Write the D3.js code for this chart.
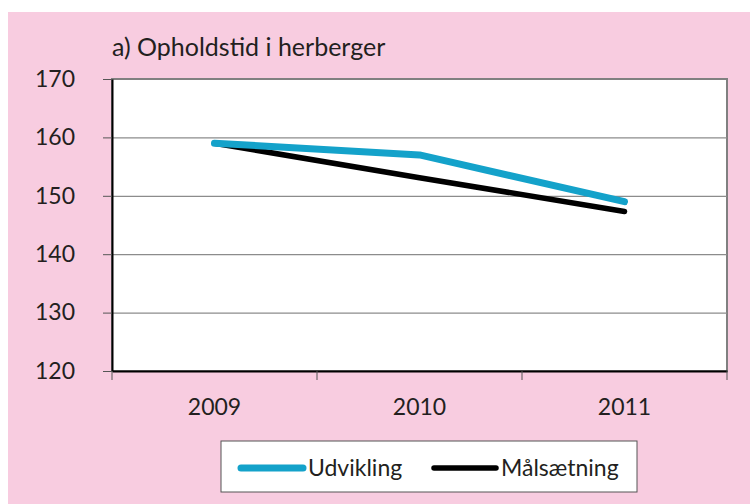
<!DOCTYPE html>
<html>
<head>
<meta charset="utf-8">
<script src="https://cdn.jsdelivr.net/npm/d3@7"></script>
<style>
  body { margin: 0; background: #fff; }
  svg { display: block; font-family: "Lato", "DejaVu Sans", sans-serif; }
</style>
</head>
<body>
<div id="chart"></div>
<script>
const years = ["2009", "2010", "2011"];
const udvikling = [159, 157, 149];
const maalsaetning = [159, 153.1, 147.3];
const yTicks = [120, 130, 140, 150, 160, 170];
const title = "a) Opholdstid i herberger";
const seriesNames = ["Udvikling", "Målsætning"];

const W = 750, H = 504;
const margin = { t: 79, r: 23, b: 133, l: 112 };

const svg = d3.select("#chart").append("svg")
  .attr("width", W).attr("height", H);

// pink panel
svg.append("rect")
  .attr("x", 8).attr("y", 12)
  .attr("width", W - 8).attr("height", H - 12)
  .attr("fill", "#f8cce0");

const x = d3.scaleBand()
  .domain(years)
  .range([margin.l, W - margin.r]);

const y = d3.scaleLinear()
  .domain([120, 170])
  .range([H - margin.b, margin.t]);

// plot area
svg.append("rect")
  .attr("x", margin.l).attr("y", margin.t)
  .attr("width", W - margin.l - margin.r)
  .attr("height", H - margin.t - margin.b)
  .attr("fill", "#fff")
  .attr("stroke", "#808080")
  .attr("stroke-width", 2);

// grid
svg.append("g")
  .attr("transform", `translate(${margin.l},0)`)
  .call(d3.axisRight(y).tickValues(yTicks.slice(1, -1))
    .tickSize(W - margin.l - margin.r).tickFormat(""))
  .call(g => g.select(".domain").remove())
  .call(g => g.selectAll("line").attr("stroke", "#8c8c8c").attr("stroke-width", 1.3));

// y axis
svg.append("g")
  .attr("transform", `translate(${margin.l},0)`)
  .call(d3.axisLeft(y).tickValues(yTicks).tickSize(9).tickPadding(28).tickSizeOuter(0))
  .call(g => g.select(".domain").attr("stroke", "#000").attr("stroke-width", 2))
  .call(g => g.selectAll("line").attr("stroke", "#555"))
  .call(g => g.selectAll("text").attr("font-size", 23).attr("fill", "#231f20")
    .attr("font-family", "Lato"));

// x axis
const xTickPos = d3.range(years.length + 1).map(i => margin.l + i * x.step());
const xa = svg.append("g")
  .attr("transform", `translate(0,${H - margin.b})`)
  .call(d3.axisBottom(x).tickSize(0).tickPadding(28))
  .call(g => g.select(".domain").attr("stroke", "#000").attr("stroke-width", 2))
  .call(g => g.selectAll("text").attr("font-size", 23).attr("fill", "#231f20")
    .attr("font-family", "Lato"));
xa.selectAll("line.sep").data(xTickPos).join("line")
  .attr("class", "sep")
  .attr("x1", d => d).attr("x2", d => d)
  .attr("y1", 0).attr("y2", 9)
  .attr("stroke", "#555").attr("stroke-width", 1);

const line = d3.line()
  .x((d, i) => x(years[i]) + x.bandwidth() / 2)
  .y(d => y(d));

svg.append("path")
  .attr("d", line(maalsaetning))
  .attr("fill", "none").attr("stroke", "#000")
  .attr("stroke-width", 5.5).attr("stroke-linecap", "round")
  .attr("stroke-linejoin", "round");

svg.append("path")
  .attr("d", line(udvikling))
  .attr("fill", "none").attr("stroke", "#14a2ca")
  .attr("stroke-width", 7).attr("stroke-linecap", "round")
  .attr("stroke-linejoin", "round");

// title
svg.append("text")
  .attr("x", 112).attr("y", 56)
  .attr("font-size", 25).attr("fill", "#231f20")
  .text(title);

// legend
const lg = svg.append("g");
lg.append("rect")
  .attr("x", 221).attr("y", 441).attr("width", 416).attr("height", 51)
  .attr("fill", "#fff").attr("stroke", "#555").attr("stroke-width", 1);
const legendItems = [
  { name: seriesNames[0], color: "#14a2ca", w: 7, x0: 241 },
  { name: seriesNames[1], color: "#000", w: 5.5, x0: 434 }
];
legendItems.forEach(d => {
  lg.append("line")
    .attr("x1", d.x0).attr("x2", d.x0 + 62)
    .attr("y1", 468).attr("y2", 468)
    .attr("stroke", d.color).attr("stroke-width", d.w)
    .attr("stroke-linecap", "round");
  lg.append("text")
    .attr("x", d.x0 + 67).attr("y", 476)
    .attr("font-size", 23).attr("fill", "#231f20")
    .text(d.name);
});
</script>
</body>
</html>
